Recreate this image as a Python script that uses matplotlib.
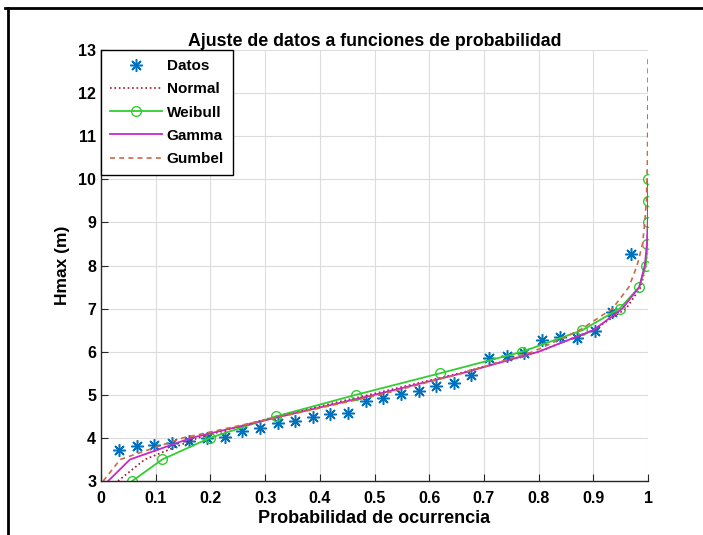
import matplotlib
matplotlib.use("Agg")
import matplotlib.pyplot as plt
from matplotlib.lines import Line2D

plt.rcParams['font.family'] = ['Liberation Sans', 'DejaVu Sans']
plt.rcParams['font.weight'] = 'bold'

# Datos observados (probabilidad empirica, Hmax)
prob_datos = [0.032, 0.065, 0.097, 0.129, 0.161, 0.194, 0.226, 0.258, 0.290, 0.323,
              0.355, 0.387, 0.419, 0.452, 0.484, 0.516, 0.548, 0.581, 0.613, 0.645,
              0.677, 0.710, 0.742, 0.774, 0.806, 0.839, 0.871, 0.903, 0.935, 0.968]
h_datos = [3.72, 3.81, 3.83, 3.89, 3.94, 4.00, 4.03, 4.15, 4.22, 4.34,
           4.40, 4.49, 4.55, 4.57, 4.86, 4.93, 5.01, 5.10, 5.20, 5.28,
           5.45, 5.85, 5.91, 5.98, 6.27, 6.33, 6.32, 6.49, 6.93, 8.27]

# Curvas ajustadas (Hmax -> probabilidad)
h_curva = [3.0, 3.5, 4.0, 4.5, 5.0, 5.5, 6.0, 6.5, 7.0, 7.5, 8.0, 8.5, 9.0, 9.5, 10.0]
p_normal = [0.031, 0.080, 0.177, 0.320, 0.490, 0.655, 0.800, 0.900, 0.960, 0.987,
            0.996, 0.999, 1.0, 1.0, 1.0]
p_weibull = [0.057, 0.112, 0.199, 0.320, 0.466, 0.620, 0.770, 0.880, 0.948, 0.984,
             0.996, 0.999, 1.0, 1.0, 1.0]
p_gamma = [0.013, 0.053, 0.165, 0.330, 0.500, 0.660, 0.800, 0.900, 0.953, 0.984,
           0.994, 0.998, 0.9995, 1.0, 1.0]

h_gumbel = [3.0, 3.5, 4.0, 4.5, 5.0, 5.5, 6.0, 6.5, 7.0, 7.5, 8.0, 8.5, 9.0, 9.5,
            10.0, 10.5, 11.0, 11.5, 12.0, 12.5, 12.8]
p_gumbel = [0.004, 0.035, 0.150, 0.330, 0.510, 0.660, 0.790, 0.875, 0.935, 0.965,
            0.980, 0.990, 0.994, 0.997, 0.998, 0.999, 0.9994, 0.9996, 0.9998,
            0.9999, 0.9999]

fig = plt.figure(figsize=(7.03, 5.35), dpi=100)
ax = fig.add_axes([0.1437, 0.1009, 0.7781, 0.8056])

ax.plot(prob_datos, h_datos, linestyle='none', marker=(8, 2, 0), color='#0072BD',
        markersize=9, markeredgewidth=1.1, label='Datos')
ax.plot(p_normal, h_curva, ':', color='#A2142F', linewidth=1.2, label='Normal')
ax.plot(p_weibull, h_curva, '-o', color='#33CC33', linewidth=1.3, markersize=7,
        markerfacecolor='none', label='Weibull')
ax.plot(p_gamma, h_curva, '-', color='#C828C8', linewidth=1.3, label='Gamma')
ax.plot(p_gumbel, h_gumbel, '--', color='#CD6A45', linewidth=1.2, dashes=(3, 2.5),
        label='Gumbel')

ax.set_xlim(0, 1)
ax.set_ylim(3, 13)
ax.set_xticks([0, 0.1, 0.2, 0.3, 0.4, 0.5, 0.6, 0.7, 0.8, 0.9, 1])
ax.set_xticklabels(['0', '0.1', '0.2', '0.3', '0.4', '0.5', '0.6', '0.7', '0.8', '0.9', '1'])
ax.set_yticks(range(3, 14))
ax.grid(True, color='#DCDCDC', linewidth=0.8)
ax.set_axisbelow(True)

for s in ['top', 'right']:
    ax.spines[s].set_visible(False)
for s in ['left', 'bottom']:
    ax.spines[s].set_color('#262626')
    ax.spines[s].set_linewidth(1.0)
ax.tick_params(direction='in', length=5, labelsize=11.5, colors='#262626',
               labelcolor='black')
ax.tick_params(axis='x', pad=7)

ax.set_title('Ajuste de datos a funciones de probabilidad', fontsize=12.8,
             fontweight='bold', pad=3)
ax.set_xlabel('Probabilidad de ocurrencia', fontsize=13, fontweight='bold', labelpad=3)
ax.set_ylabel('Hmax (m)', fontsize=12.5, fontweight='bold', labelpad=6)

leg = ax.legend(loc='upper left', borderaxespad=0, fontsize=11, handlelength=3.4,
                handletextpad=0.3, fancybox=False, framealpha=1, edgecolor='black',
                labelspacing=0.6, borderpad=0.6)
leg.get_frame().set_linewidth(1.0)

# borde de la captura
fig.add_artist(Line2D([0.007, 1.0], [0.985, 0.985], color='black', linewidth=2,
                      transform=fig.transFigure))
fig.add_artist(Line2D([0.012, 0.012], [0.0, 0.985], color='black', linewidth=2,
                      transform=fig.transFigure))

fig.savefig('out.png', dpi=100)
